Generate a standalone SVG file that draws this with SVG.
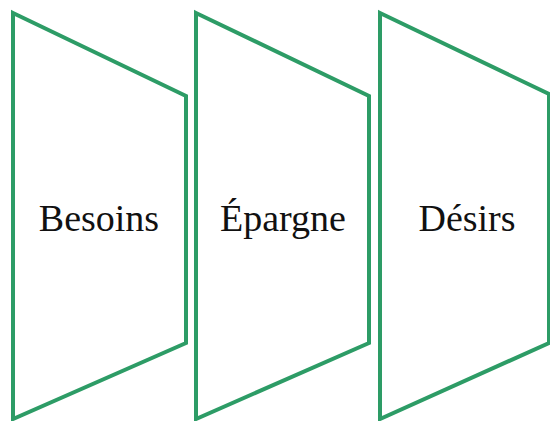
<svg xmlns="http://www.w3.org/2000/svg" width="550" height="421" viewBox="0 0 550 421">
<style>
.shape{fill:#ffffff;stroke:#2d9c66;stroke-width:4;stroke-linejoin:miter}
.lbl{font-family:"Liberation Serif","Times New Roman",serif;font-size:38px;fill:#111111;text-anchor:middle}
</style>
<rect width="550" height="421" fill="#ffffff"/>
<g id="node-besoins">
<polygon class="shape" points="13,13 186,96 186,343 13,419"/>
<text class="lbl" x="99" y="231">Besoins</text>
</g>
<g id="node-epargne">
<polygon class="shape" points="196,13 369,96 369,343 196,419"/>
<text class="lbl" x="283" y="231">Épargne</text>
</g>
<g id="node-desirs">
<polygon class="shape" points="380,13 549,94 549,343 380,419"/>
<text class="lbl" x="467" y="231">Désirs</text>
</g>
<g id="connectors"></g>
</svg>
